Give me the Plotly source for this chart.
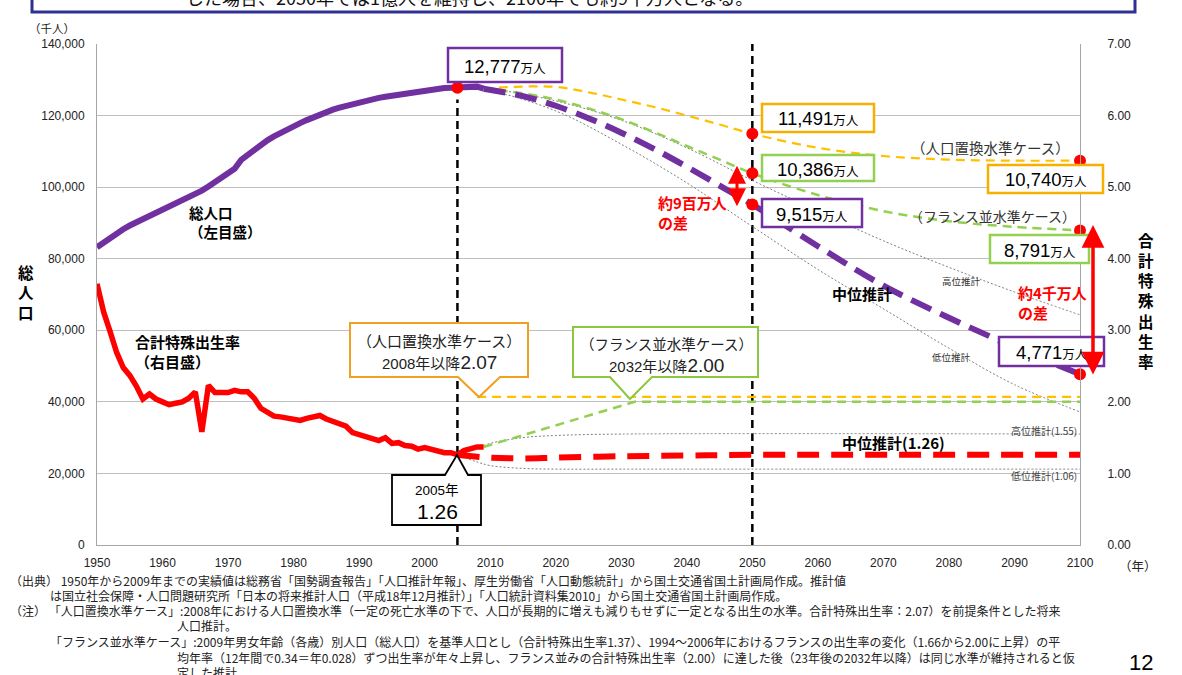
import plotly.graph_objects as go

# ---------------- data ----------------
# Total population, actual (thousand persons)
pop_years = list(range(1950, 2010))
pop_actual = [83200, 84541, 85808, 86981, 88239, 89276, 90172, 90928, 91767, 92641,
              93419, 94287, 95181, 96156, 97182, 98275, 99036, 100196, 101331, 102536,
              103720, 105145, 107595, 109104, 110573, 111940, 113094, 114165, 115190, 116155,
              117060, 117902, 118728, 119536, 120305, 121049, 121660, 122239, 122745, 123205,
              123611, 124101, 124567, 124938, 125265, 125570, 125859, 126157, 126472, 126667,
              126926, 127316, 127486, 127694, 127787, 127768, 127901, 128033, 128084, 127510]

# Total fertility rate, actual
tfr_actual = [3.65, 3.26, 2.98, 2.69, 2.48, 2.37, 2.22, 2.04, 2.11, 2.04,
              2.00, 1.96, 1.98, 2.00, 2.05, 2.14, 1.58, 2.23, 2.13, 2.13,
              2.13, 2.16, 2.14, 2.14, 2.05, 1.91, 1.85, 1.80, 1.79, 1.77,
              1.75, 1.74, 1.77, 1.80, 1.81, 1.76, 1.72, 1.69, 1.66, 1.57,
              1.54, 1.53, 1.50, 1.46, 1.50, 1.42, 1.43, 1.39, 1.38, 1.34,
              1.36, 1.33, 1.32, 1.29, 1.29, 1.26, 1.32, 1.34, 1.37, 1.37]

# Population projections (thousand persons)
proj_years = [2009, 2015, 2020, 2025, 2030, 2035, 2040, 2045, 2050, 2060, 2070, 2080, 2090, 2100]
pop_medium = [127510, 125430, 122735, 119270, 115224, 110679, 105695, 100443, 95152,
              83500, 72500, 63500, 55300, 47710]
pop_replace = [127510, 128100, 128000, 126500, 124500, 122400, 120000, 117500, 114910,
               111000, 108700, 107700, 107400, 107400]
pop_france = [127510, 126200, 124500, 122000, 119000, 115400, 111500, 107700, 103860,
              97800, 93300, 90500, 88900, 87910]
var_years = [2005, 2010, 2020, 2030, 2040, 2050, 2060, 2070, 2080, 2090, 2100]
pop_high = [127770, 127450, 124100, 118700, 111000, 101900, 93300, 85000, 77600, 70700, 64300]
pop_low = [127770, 126900, 121300, 112000, 101200, 89000, 77000, 66000, 55000, 44800, 37200]

# Fertility assumptions
tfr_med_years = [2005, 2010, 2015, 2020, 2030, 2040, 2050, 2100]
tfr_medium = [1.26, 1.22, 1.21, 1.22, 1.24, 1.25, 1.26, 1.26]
tfr_var_years = [2005, 2008, 2010, 2015, 2020, 2030, 2100]
tfr_high = [1.26, 1.35, 1.42, 1.50, 1.53, 1.55, 1.55]
tfr_low = [1.26, 1.16, 1.11, 1.07, 1.06, 1.06, 1.06]
tfr_replace_years = [2008, 2100]
tfr_replace = [2.07, 2.07]
tfr_france_years = [2009, 2032, 2100]
tfr_france = [1.37, 2.00, 2.00]

# Highlighted values (thousand persons)
peak_year, peak_pop = 2005, 127770
y2050 = [114910, 103860, 95152]
y2100 = [107400, 87910, 47710]

x_ticks = list(range(1950, 2101, 10))
y_ticks = list(range(0, 140001, 20000))
y2_ticks = [0, 1, 2, 3, 4, 5, 6, 7]

PURPLE = "#7030A0"
GOLD = "#FFC000"
GOLD_BOX = "#F5B000"
GREEN = "#92D050"
RED = "#FF0000"
GRAY = "#7F7F7F"
JP = "Noto Sans CJK JP"
LAT = "Liberation Sans, Noto Sans CJK JP"

# plot-area pixel frame, used to place the label boxes
L, R, T, B = 97, 1080, 44, 545


def PX(x):
    return (x - L) / (R - L)


def PY(y):
    return (B - y) / (B - T)


fig = go.Figure()

# projection variants (thin dotted)
for ys in (pop_high, pop_low):
    fig.add_trace(go.Scatter(x=var_years, y=ys, mode="lines", line=dict(color=GRAY, width=1, dash="2px,2px"),
                             line_shape="spline", hoverinfo="skip"))
for ys in (tfr_high, tfr_low):
    fig.add_trace(go.Scatter(x=tfr_var_years, y=ys, yaxis="y2", mode="lines",
                             line=dict(color=GRAY, width=1, dash="2px,2px"), line_shape="spline", hoverinfo="skip"))

# alternative fertility cases
fig.add_trace(go.Scatter(x=proj_years, y=pop_replace, mode="lines", line=dict(color=GOLD, width=2.2, dash="9px,6px"),
                         line_shape="spline"))
fig.add_trace(go.Scatter(x=proj_years, y=pop_france, mode="lines", line=dict(color=GREEN, width=2.5, dash="9px,6px"),
                         line_shape="spline"))
fig.add_trace(go.Scatter(x=tfr_replace_years, y=tfr_replace, yaxis="y2", mode="lines",
                         line=dict(color=GOLD, width=2.2, dash="9px,6px")))
fig.add_trace(go.Scatter(x=tfr_france_years, y=tfr_france, yaxis="y2", mode="lines",
                         line=dict(color=GREEN, width=2.5, dash="9px,6px")))

# medium variant
fig.add_trace(go.Scatter(x=proj_years, y=pop_medium, mode="lines", line=dict(color=PURPLE, width=6, dash="22px,10px"),
                         line_shape="spline"))
fig.add_trace(go.Scatter(x=tfr_med_years, y=tfr_medium, yaxis="y2", mode="lines",
                         line=dict(color=RED, width=6, dash="22px,12px"), line_shape="spline"))

# actual series
fig.add_trace(go.Scatter(x=pop_years, y=pop_actual, mode="lines", line=dict(color=PURPLE, width=6)))
fig.add_trace(go.Scatter(x=pop_years, y=tfr_actual, yaxis="y2", mode="lines", line=dict(color=RED, width=5.5)))

# highlighted points
fig.add_trace(go.Scatter(x=[peak_year] + [2050] * 3 + [2100] * 3, y=[peak_pop] + y2050 + y2100,
                         mode="markers", marker=dict(color=RED, size=12), cliponaxis=False))

shapes = []
annos = []

# vertical reference lines
shapes.append(dict(type="line", xref="x", yref="y", x0=2005, x1=2005, y0=0, y1=124500,
                   line=dict(color="black", width=2.5, dash="8px,5px"), layer="between"))
shapes.append(dict(type="line", xref="x", yref="y", x0=2050, x1=2050, y0=0, y1=140000,
                   line=dict(color="black", width=2.5, dash="8px,5px"), layer="between"))


def box(x0, y0, x1, y1, color, width=2.5):
    shapes.append(dict(type="rect", xref="paper", yref="paper", x0=PX(x0), x1=PX(x1), y0=PY(y1), y1=PY(y0),
                       line=dict(color=color, width=width), fillcolor="white", layer="above"))


def callout(pts, color, width=1.5):
    path = "M " + " L ".join(f"{PX(x)},{PY(y)}" for x, y in pts) + " Z"
    shapes.append(dict(type="path", xref="paper", yref="paper", path=path,
                       line=dict(color=color, width=width), fillcolor="white", layer="above"))


def text(x, y, t, size=13, color="black", family=JP, xanchor="center", align="center"):
    annos.append(dict(xref="paper", yref="paper", x=PX(x), y=PY(y), text=t, showarrow=False,
                      font=dict(size=size, color=color, family=family), xanchor=xanchor, yanchor="middle",
                      align=align))


def value_label(x0, y0, x1, y1, color, num):
    box(x0, y0, x1, y1, color)
    text((x0 + x1) / 2, (y0 + y1) / 2 + 1, f"{num}<span style='font-size:12.5px'>万人</span>", size=18.5, family=LAT)


value_label(448, 48, 562, 82, PURPLE, f"{peak_pop // 10:,}")
value_label(762, 104, 874, 132, GOLD_BOX, f"{y2050[0] // 10:,}")
value_label(762, 155, 874, 181, GREEN, f"{y2050[1] // 10:,}")
value_label(762, 199, 862, 227, PURPLE, f"{y2050[2] // 10:,}")
value_label(988, 165, 1103, 193, GOLD_BOX, f"{y2100[0] // 10:,}")
value_label(990, 235, 1089, 263, GREEN, f"{y2100[1] // 10:,}")
value_label(999, 337, 1104, 366, PURPLE, f"{y2100[2] // 10:,}")

# case names near the 2100 values
text(990, 147, "（人口置換水準ケース）", size=14.5, color="#333")
text(992, 216, "（フランス並水準ケース）", size=14, color="#333")

# projection variant names
text(961, 281, "高位推計", size=9.5, color="#333")
text(951, 357, "低位推計", size=9.5, color="#333")
text(862, 293, "<b>中位推計</b>", size=15)
text(893, 442, "<b>中位推計(1.26)</b>", size=15)
text(1044, 430, "高位推計(1.55)", size=10, color="#444")
text(1044, 475, "低位推計(1.06)", size=10, color="#444")

# series names
text(187, 222, "<b>総人口<br>（左目盛）</b>", size=14.5, xanchor="left", align="left")
text(133, 351, "<b>合計特殊出生率<br>（右目盛）</b>", size=15, xanchor="left", align="left")

# difference notes
text(656, 212, "<b>約9百万人<br>の差</b>", size=15, color=RED, xanchor="left", align="left")
text(1016, 302, "<b>約4千万人<br>の差</b>", size=15, color=RED, xanchor="left", align="left")

# fertility-case callouts
callout([(350, 323), (528, 323), (528, 377), (500, 377), (479, 397), (458, 377), (350, 377)], "#F0A020", 2)
text(439, 340, "（人口置換水準ケース）", size=15, color="#222")
text(439, 362, "2008年以降<span style='font-size:19px'>2.07</span>", size=15, color="#222", family=LAT)
callout([(573, 327), (758, 327), (758, 377), (652, 377), (630, 399), (610, 377), (573, 377)], "#8DC63F", 2)
text(666, 343, "（フランス並水準ケース）", size=14.5, color="#222")
text(666, 365, "2032年以降<span style='font-size:19px'>2.00</span>", size=15, color="#222", family=LAT)
callout([(392, 475), (445, 475), (457, 455), (468, 475), (481, 475), (481, 525), (392, 525)], "black", 1.8)
text(437, 490, "2005年", size=13.5, family=LAT)
text(437, 511, "1.26", size=21, family=LAT)

# double-headed arrows
annos.append(dict(xref="paper", yref="y", x=PX(737), y=106000, ax=0, ay=42, text="", showarrow=True,
                  arrowside="end+start", arrowhead=2, arrowsize=1.2, arrowwidth=3, arrowcolor=RED))
annos.append(dict(xref="paper", yref="y", x=PX(1093), y=89400, ax=0, ay=151, text="", showarrow=True,
                  arrowside="end+start", arrowhead=2, arrowsize=1.3, arrowwidth=3.5, arrowcolor=RED))

# axis captions
text(52, 28, "（千人）", size=11.5, color="#222")
text(26, 292, "<b>総<br>人<br>口</b>", size=15.5)
text(1146, 300, "<b>合<br>計<br>特<br>殊<br>出<br>生<br>率</b>", size=15.5)
text(1138, 565, "（年）", size=12.5, color="#222")

# banner at the top of the page
shapes.append(dict(type="rect", xref="paper", yref="paper", x0=PX(32), x1=PX(1135), y0=PY(12), y1=PY(-30),
                   line=dict(color="#2E3192", width=3), fillcolor="white", layer="above"))
text(460, -3, "　した場合、2050年では1億人を維持し、2100年でも約9千万人となる。", size=18, color="#111")

# source and notes
notes = [
    (8, 580, "（出典） 1950年から2009年までの実績値は総務省「国勢調査報告」「人口推計年報」、厚生労働省「人口動態統計」から国土交通省国土計画局作成。推計値"),
    (48, 595, "は国立社会保障・人口問題研究所「日本の将来推計人口（平成18年12月推計）」「人口統計資料集2010」から国土交通省国土計画局作成。"),
    (8, 610, "（注） 「人口置換水準ケース」:2008年における人口置換水準（一定の死亡水準の下で、人口が長期的に増えも減りもせずに一定となる出生の水準。合計特殊出生率：2.07）を前提条件とした将来"),
    (175, 625, "人口推計。"),
    (48, 641, "「フランス並水準ケース」:2009年男女年齢（各歳）別人口（総人口）を基準人口とし（合計特殊出生率1.37）、1994～2006年におけるフランスの出生率の変化（1.66から2.00に上昇）の平"),
    (175, 657, "均年率（12年間で0.34＝年0.028）ずつ出生率が年々上昇し、フランス並みの合計特殊出生率（2.00）に達した後（23年後の2032年以降）は同じ水準が維持されると仮"),
    (175, 672, "定した推計。"),
]
for x, y, t in notes:
    text(x, y, t, size=12, color="#222", xanchor="left", align="left")

text(1141, 662, "12", size=22, family=LAT)

axis_font = dict(family=LAT, size=12, color="#222")
fig.update_layout(
    width=1182, height=675,
    margin=dict(l=L, r=1182 - R, t=T, b=675 - B),
    paper_bgcolor="white", plot_bgcolor="white",
    showlegend=False,
    shapes=shapes, annotations=annos,
    xaxis=dict(range=[1950, 2100], tickvals=x_ticks, showgrid=False, zeroline=False,
               showline=True, linecolor="#A6A6A6", linewidth=1, ticks="", tickfont=axis_font,
               ticklabelstandoff=7),
    yaxis=dict(range=[0, 140000], tickvals=y_ticks, tickformat=",", showgrid=True, gridcolor="#BFBFBF",
               zeroline=False, showline=True, linecolor="#A6A6A6", ticks="", tickfont=axis_font,
               ticklabelstandoff=9),
    yaxis2=dict(range=[0, 7], tickvals=y2_ticks, tickformat=".2f", overlaying="y", side="right",
                showgrid=False, zeroline=False, showline=True, linecolor="#A6A6A6", ticks="",
                tickfont=axis_font, ticklabelstandoff=24),
)

fig.write_html("out.html")
